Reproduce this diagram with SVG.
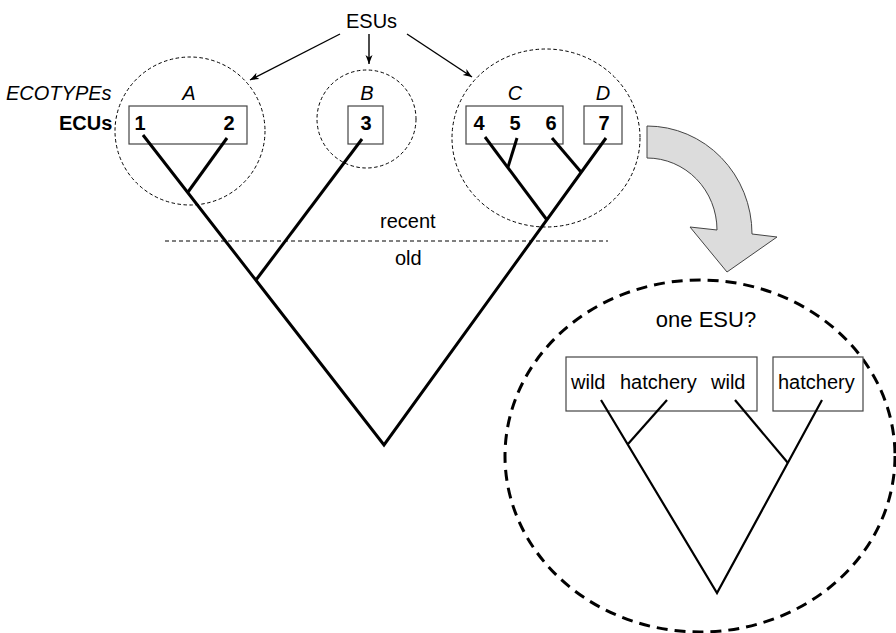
<svg xmlns="http://www.w3.org/2000/svg" width="896" height="633" viewBox="0 0 896 633">
<defs>
<marker id="ah" markerWidth="10" markerHeight="8" refX="9" refY="3.5" orient="auto" markerUnits="userSpaceOnUse">
<path d="M0,0 L9,3.5 L0,7 L2.5,3.5 Z" fill="#000"/>
</marker>
</defs>
<style>
text{font-family:"Liberation Sans",Arial,sans-serif;fill:#000}
.t20{font-size:20px}
.it{font-style:italic}
.b{font-weight:bold}
.mid{text-anchor:middle}
.box{fill:#fff;stroke:#444;stroke-width:1.2}
.sdash{fill:none;stroke:#000;stroke-width:1;stroke-dasharray:3.5 2.5}
.tree{fill:none;stroke:#000;stroke-width:3;stroke-linecap:butt}
.tree2{fill:none;stroke:#000;stroke-width:2.2}
.arr{fill:none;stroke:#000;stroke-width:1.4}
</style>
<rect width="896" height="633" fill="#fff"/>

<g id="esus-label"><text class="t20" x="346" y="28">ESUs</text></g>
<g id="row-labels">
<text class="t20 it" x="6" y="100">ECOTYPEs</text>
<text class="t20 b" x="59" y="130">ECUs</text>
</g>

<g id="esu-A">
<ellipse class="sdash" cx="190" cy="131" rx="75" ry="74"/>
<text class="t20 it mid" x="189" y="100">A</text>
<rect class="box" x="129" y="106" width="118" height="38"/>
<text class="t20 b mid" x="140" y="130">1</text>
<text class="t20 b mid" x="229" y="130">2</text>
</g>

<g id="esu-B">
<ellipse class="sdash" cx="366.5" cy="119" rx="49.5" ry="49"/>
<text class="t20 it mid" x="367" y="100">B</text>
<rect class="box" x="348" y="106" width="35" height="38"/>
<text class="t20 b mid" x="366" y="130">3</text>
</g>

<g id="esu-CD">
<ellipse class="sdash" cx="546" cy="138" rx="94" ry="89"/>
<text class="t20 it mid" x="515" y="100">C</text>
<text class="t20 it mid" x="603" y="100">D</text>
<rect class="box" x="466" y="106" width="97" height="38"/>
<rect class="box" x="584" y="106" width="38" height="38"/>
<text class="t20 b mid" x="479" y="130">4</text>
<text class="t20 b mid" x="515" y="130">5</text>
<text class="t20 b mid" x="551" y="130">6</text>
<text class="t20 b mid" x="604" y="130">7</text>
</g>

<g id="time-divider">
<line x1="165" y1="241" x2="608" y2="241" stroke="#000" stroke-width="1" stroke-dasharray="4 3"/>
<text class="t20" x="380" y="228">recent</text>
<text class="t20" x="395" y="265">old</text>
</g>

<g id="connectors">
<line class="arr" x1="340" y1="34" x2="250" y2="80" marker-end="url(#ah)"/>
<line class="arr" x1="369" y1="34" x2="369" y2="64" marker-end="url(#ah)"/>
<line class="arr" x1="407" y1="34" x2="472" y2="77" marker-end="url(#ah)"/>
</g>

<g id="main-tree">
<polyline class="tree" points="143,135 384,445 606,138"/>
<line class="tree" x1="227" y1="138" x2="188" y2="192"/>
<line class="tree" x1="362" y1="139" x2="256" y2="280"/>
<line class="tree" x1="485" y1="137" x2="547" y2="220"/>
<line class="tree" x1="517" y1="138" x2="508" y2="167"/>
<line class="tree" x1="552" y1="138" x2="581" y2="172"/>
</g>

<g id="zoom-arrow">
<path d="M647,126 A105,108 0 0 1 752,234 L777,237 L727,272 L690,227 L717,230 A70,72 0 0 0 647,158 Z" fill="#dcdcdc" stroke="#444" stroke-width="1"/>
</g>

<g id="one-esu">
<ellipse cx="700" cy="456" rx="195" ry="176" fill="none" stroke="#000" stroke-width="3" stroke-dasharray="11 7"/>
<text class="mid" x="706" y="327" font-size="22">one ESU?</text>
<rect class="box" x="566" y="357" width="191" height="54"/>
<rect class="box" x="773" y="357" width="90" height="54"/>
<text class="t20" x="571" y="389">wild</text>
<text class="t20" x="620" y="389">hatchery</text>
<text class="t20" x="711" y="389">wild</text>
<text class="t20" x="778" y="389">hatchery</text>
<polyline class="tree2" points="601,400 717,593 822,400"/>
<line class="tree2" x1="667" y1="400" x2="628" y2="444"/>
<line class="tree2" x1="735" y1="400" x2="788" y2="463"/>
</g>
</svg>
